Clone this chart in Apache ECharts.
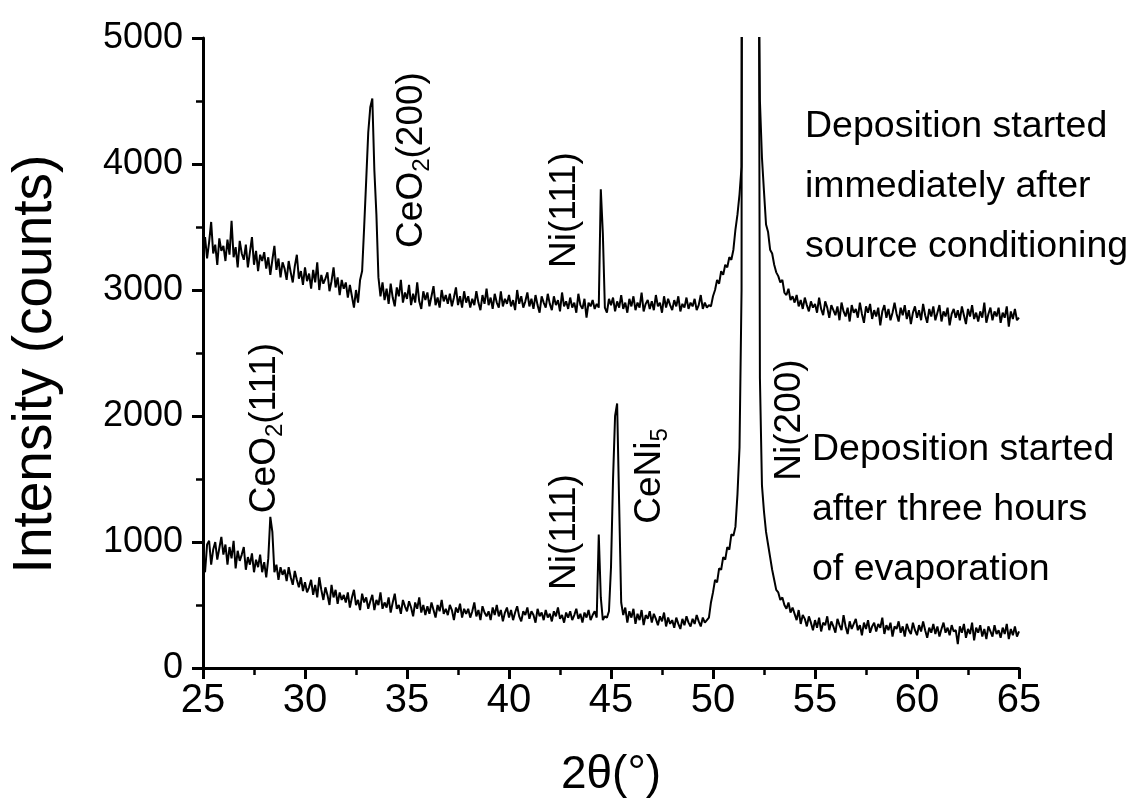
<!DOCTYPE html>
<html>
<head>
<meta charset="utf-8">
<script src="https://cdn.jsdelivr.net/npm/echarts@6/dist/echarts.min.js"></script>
<style>
html,body{margin:0;padding:0;background:#fff;}
#chart{width:1133px;height:800px;}
</style>
</head>
<body>
<div id="chart"></div>
<script>
// 2-theta sampling of the scans (degrees)
const THETA_START = 25;
const THETA_STEP = 0.1;

// Scan 1: deposition started immediately after source conditioning (counts), 25.0 .. 65.0
const upperCounts = [
 3300,3420,3250,3380,3540,3290,3360,3200,3410,3310,
 3350,3230,3400,3280,3550,3260,3340,3180,3390,3290,
 3240,3360,3180,3300,3420,3200,3310,3150,3280,3230,
 3300,3170,3260,3120,3240,3350,3160,3250,3100,3220,
 3170,3080,3230,3140,3060,3190,3280,3090,3150,3040,
 3180,3070,3130,3010,3160,3060,3220,3000,3120,3050,
 3090,3140,2990,3070,3180,3020,3100,2960,3080,3010,
 3060,2940,3040,2950,2860,3000,2900,3080,3150,3500,
 3870,4250,4450,4520,3950,3600,3100,2950,3060,2920,
 3010,2890,3050,2940,2870,3020,2950,3080,2900,2980,
 2930,3040,2880,2970,2900,3060,2910,2850,2990,2920,
 2980,2870,2950,3030,2880,2940,2860,3000,2910,2960,
 2890,2970,2870,2940,3020,2880,2950,2860,2990,2900,
 2950,2860,2930,2880,2990,2900,2840,2960,2890,3010,
 2880,2940,2850,2970,2900,2860,2990,2870,2930,2890,
 2960,2870,2920,2840,3000,2890,2950,2860,2910,2980,
 2870,2930,2850,2960,2880,2820,2950,2900,2860,2970,
 2890,2840,2950,2880,2920,2830,2980,2870,2910,2850,
 2940,2860,2900,2820,2970,2880,2850,2930,2780,2900,
 2870,2920,2850,2890,2860,3800,3450,2860,2820,2930,
 2880,2940,2830,2910,2860,2960,2850,2900,2820,2930,
 2870,2950,2840,2900,2860,2980,2830,2890,2920,2850,
 2910,2840,2960,2870,2900,2820,2950,2860,2930,2880,
 2840,2920,2870,2950,2830,2890,2860,2940,2850,2900,
 2870,2930,2840,2880,2960,2850,2900,2860,2880,2870,
 2950,3000,3080,3050,3150,3120,3200,3180,3260,3240,
 3320,3480,3600,3760,3980,14000,26000,34000,36000,32000,
 26000,18000,6500,4500,4050,3780,3520,3460,3320,3290,
 3200,3140,3110,3060,3080,2980,2960,3010,2920,2950,
 2900,2960,2870,2920,2850,2940,2880,2830,2910,2860,
 2890,2820,2940,2850,2800,2910,2860,2780,2880,2840,
 2800,2870,2760,2900,2830,2790,2860,2750,2880,2820,
 2850,2780,2900,2810,2740,2870,2820,2890,2770,2840,
 2790,2860,2720,2830,2880,2780,2850,2760,2820,2900,
 2810,2750,2860,2800,2880,2770,2840,2730,2820,2870,
 2780,2840,2760,2890,2800,2740,2850,2790,2870,2760,
 2820,2880,2750,2830,2790,2860,2720,2810,2850,2780,
 2840,2760,2870,2800,2730,2850,2790,2880,2770,2820,
 2750,2830,2780,2900,2740,2810,2860,2760,2830,2790,
 2860,2740,2820,2780,2870,2710,2830,2770,2850,2760,
 2780
];

// Scan 2: deposition started after three hours of evaporation (counts), 25.0 .. 65.0
const lowerCounts = [
 870,760,980,1010,820,940,1000,860,950,1040,
 900,980,820,960,870,1010,790,930,850,900,
 960,780,880,820,910,760,860,800,900,760,
 840,720,870,1200,1080,760,820,700,800,740,
 780,690,800,720,660,770,700,640,720,610,
 680,600,640,700,580,660,560,720,620,540,
 640,580,500,660,560,620,510,600,540,580,
 520,600,480,560,620,500,540,460,590,520,
 560,470,530,580,460,540,500,600,470,520,
 480,560,440,520,590,470,500,430,540,490,
 450,530,480,410,520,470,560,440,500,420,
 490,430,520,460,400,500,450,540,430,470,
 420,500,460,380,480,440,510,400,470,430,
 470,400,450,520,410,460,380,490,440,410,
 450,380,480,420,500,410,460,370,440,480,
 400,460,380,440,490,410,370,450,420,480,
 390,450,420,360,470,410,440,380,460,400,
 430,370,450,410,480,390,420,360,440,400,
 450,380,420,470,390,430,360,440,400,460,
 380,420,450,400,1060,560,380,410,400,450,
 800,1500,2000,2100,1300,520,420,480,360,450,
 400,470,350,430,380,460,340,420,390,450,
 360,430,390,340,410,370,440,330,400,350,
 380,320,400,350,310,390,340,410,360,330,
 390,350,420,370,330,400,360,380,400,520,
 600,700,680,790,780,880,860,960,940,1060,
 1050,1120,1380,1750,3000,30000,42000,50000,52000,44000,
 30000,18000,9000,2300,1450,1240,1080,980,880,780,
 700,620,600,540,560,500,470,520,440,480,
 430,380,460,350,420,390,330,410,360,300,
 380,320,400,290,360,340,410,300,370,330,
 280,390,340,300,420,330,270,370,310,350,
 390,300,340,260,360,310,380,280,330,360,
 290,350,320,400,270,340,300,360,250,330,
 310,370,280,330,250,350,300,270,360,300,
 260,340,290,370,300,240,320,280,350,270,
 330,250,310,360,280,320,260,340,290,300,
 190,330,280,350,240,310,270,360,220,320,
 280,340,250,310,230,330,290,250,340,270,
 300,240,320,270,350,230,310,260,330,250,
 290
];

// Axis ticks
const xTicks = [25, 30, 35, 40, 45, 50, 55, 60, 65];
const yTicks = [0, 1000, 2000, 3000, 4000, 5000];

// Annotation texts
const upperNote = ['Deposition started', 'immediately after', 'source conditioning'];
const lowerNote = ['Deposition started', 'after three hours', 'of evaporation'];

function toPairs(vals) {
  return vals.map((v, i) => [+(THETA_START + i * THETA_STEP).toFixed(2), v]);
}

const FONT = "'Liberation Sans', Arial, Helvetica, sans-serif";

const chart = echarts.init(document.getElementById('chart'), null, {renderer: 'canvas'});

const subRich = {
  n: {fontSize: 37, fontFamily: FONT, lineHeight: 44, verticalAlign: 'middle', fill: '#000'},
  s: {fontSize: 24, fontFamily: FONT, lineHeight: 44, verticalAlign: 'bottom', fill: '#000'}
};
function rotLabel(x, y, text) {
  return {
    type: 'text', x: x, y: y, rotation: Math.PI / 2,
    style: {
      text: text, rich: subRich,
      fontSize: 37, fontFamily: FONT,
      fill: '#000', align: 'center', verticalAlign: 'middle'
    }
  };
}
function noteBlock(x, y, lines) {
  return lines.map((t, i) => ({
    type: 'text', x: x, y: y + i * 60,
    style: {text: t, fontSize: 37.5, fontFamily: FONT, fill: '#000', align: 'left', verticalAlign: 'middle'}
  }));
}

const option = {
  animation: false,
  backgroundColor: '#fff',
  grid: {left: 203, right: 114, top: 38, bottom: 132, containLabel: false, outerBoundsMode: 'none'},
  xAxis: {
    type: 'value', min: xTicks[0], max: xTicks[xTicks.length - 1], interval: 5,
    name: '2θ(°)', nameLocation: 'middle', nameGap: 84,
    nameTextStyle: {fontSize: 46, fontFamily: FONT, color: '#000'},
    axisLine: {show: true, onZero: false, lineStyle: {color: '#000', width: 3}},
    axisTick: {show: true, inside: false, length: 11, lineStyle: {color: '#000', width: 3}},
    minorTick: {show: true, splitNumber: 2, length: 7, lineStyle: {color: '#000', width: 2.5}},
    axisLabel: {fontSize: 40, fontFamily: FONT, color: '#000', margin: 13,
                formatter: function (v) { return String(v); }},
    splitLine: {show: false}
  },
  yAxis: {
    type: 'value', min: yTicks[0], max: yTicks[yTicks.length - 1], interval: 1000,
    name: 'Intensity (counts)', nameLocation: 'middle', nameGap: 140,
    nameTextStyle: {fontSize: 55, fontFamily: FONT, color: '#000', padding: [0, 22, 0, 0]},
    axisLine: {show: true, onZero: false, lineStyle: {color: '#000', width: 3}},
    axisTick: {show: true, inside: false, length: 11, lineStyle: {color: '#000', width: 3}},
    minorTick: {show: true, splitNumber: 2, length: 7, lineStyle: {color: '#000', width: 2.5}},
    axisLabel: {fontSize: 36, fontFamily: FONT, color: '#000', margin: 20,
                formatter: function (v) { return String(v); }},
    splitLine: {show: false}
  },
  series: [
    {type: 'line', name: 'upper', data: toPairs(upperCounts), showSymbol: false, symbol: 'none',
     clip: true, lineStyle: {color: '#000', width: 2}},
    {type: 'line', name: 'lower', data: toPairs(lowerCounts), showSymbol: false, symbol: 'none',
     clip: true, lineStyle: {color: '#000', width: 2}}
  ],
  graphic: [
    rotLabel(412, 160, '{n|CeO}{s|2}{n|(200)}'),
    rotLabel(565, 210, '{n|Ni(111)}'),
    rotLabel(265, 428, '{n|CeO}{s|2}{n|(111)}'),
    rotLabel(565, 532, '{n|Ni(111)}'),
    rotLabel(650, 476, '{n|CeNi}{s|5}'),
    rotLabel(790, 420, '{n|Ni(200)}')
  ].concat(noteBlock(805, 127, upperNote)).concat(noteBlock(812, 450, lowerNote))
};
chart.setOption(option);
</script>
</body>
</html>
